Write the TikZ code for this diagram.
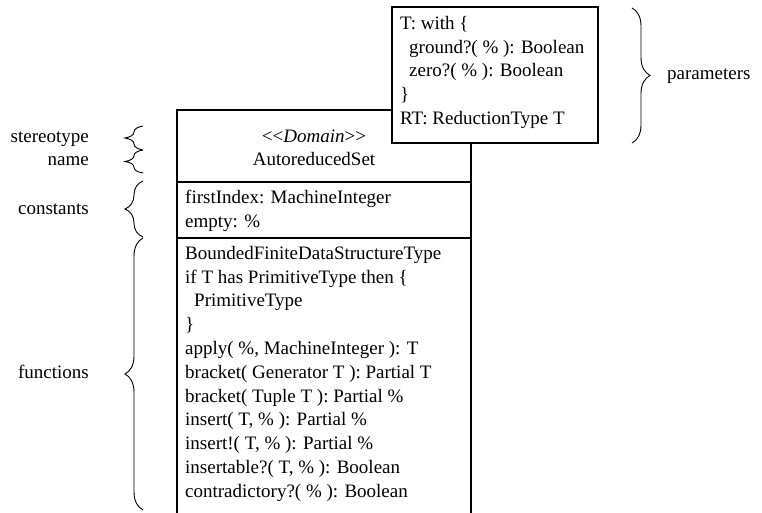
\documentclass[tikz,border=0pt]{standalone}
\usepackage{fontspec}
\setmainfont{Liberation Serif}
\usetikzlibrary{decorations.pathreplacing}

\begin{document}
\begin{tikzpicture}[
      x=1pt, y=-1pt,
      font=\fontsize{19}{23.8}\selectfont,
      umlbox/.style={draw=black, line width=1.2pt, inner sep=0pt, outer sep=0pt,
                     anchor=north west},
      member/.style={anchor=base west, inner sep=0pt},
      lbl/.style={anchor=base east, inner sep=0pt},
      brc/.style={decorate, decoration={brace, amplitude=18pt}, line width=0.9pt},
    ]
    \useasboundingbox (0,0) rectangle (762,513);
    \clip (0,0) rectangle (762,513);

    % ---------- clase: caja principal, abierta por abajo ----------
    \node[umlbox, minimum width=294pt, minimum height=430pt] (cls) at (177,110) {};
    \draw[line width=1.2pt] ([yshift=-72pt]cls.north west) -- ([yshift=-72pt]cls.north east);
    \draw[line width=1.2pt] ([yshift=-128pt]cls.north west) -- ([yshift=-128pt]cls.north east);

    \node[anchor=base, inner sep=0pt] (stereo) at (314,142.5) {<{}<\textit{Domain}>{}>};
    \node[anchor=base, inner sep=0pt] (clsname) at (314,166) {AutoreducedSet};

    \node[member] (c1) at (185,203.3) {firstIndex: MachineInteger};
    \node[member] (c2) at (185,227.1) {empty: \%};

    \foreach \ln [count=\k from 0] in {BoundedFiniteDataStructureType,
        if T has PrimitiveType then \{, \hspace*{9pt}PrimitiveType, \},
        {apply( \%, MachineInteger ): T}, bracket( Generator T ): Partial T,
        bracket( Tuple T ): Partial \%, {insert( T, \% ): Partial \%},
        {insert!( T, \% ): Partial \%}, {insertable?( T, \% ): Boolean},
        contradictory?( \% ): Boolean}
      \node[member] (fn\k) at (185,{259.3+23.8*\k}) {\ln};

    % ---------- parametros (encima de la esquina) ----------
    \node[umlbox, fill=white, minimum width=206pt, minimum height=136pt] (par) at (392,7) {};
    \foreach \ln [count=\k from 0] in {T: with \{, \hspace*{9pt}ground?( \% ): Boolean,
        \hspace*{9pt}zero?( \% ): Boolean, \}, RT: ReductionType T}
      \node[member] (p\k) at (400,{29.3+23.8*\k}) {\ln};

    % ---------- llaves y rotulos ----------
    \draw[brc] (143,150) -- (143,126);
    \draw[brc] (143,173) -- (143,150);
    \draw[brc] (143,237) -- (143,181);
    \draw[brc] (143,510) -- (143,238);
    \draw[brc] (632,8) -- (632,143);

    \node[lbl] (lstereo) at (89,142.3) {stereotype};
    \node[lbl] (lname)   at (89,166)   {name};
    \node[lbl] (lconst)  at (89,214.3) {constants};
    \node[lbl] (lfun)    at (89,378.3) {functions};
    \node[anchor=base west, inner sep=0pt] (lpar) at (667,79.3) {parameters};

  \end{tikzpicture}
\end{document}
